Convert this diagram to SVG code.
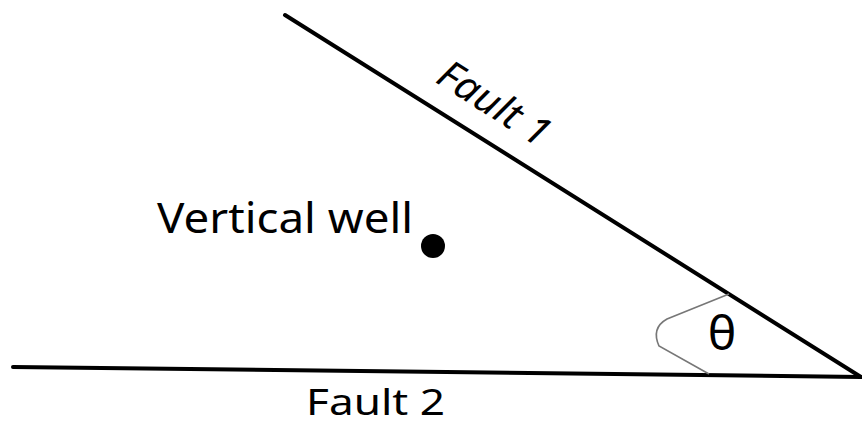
<svg xmlns="http://www.w3.org/2000/svg" width="862" height="427" viewBox="0 0 862 427">
<style>
.lbl{font-family:"Noto Sans","Open Sans","DejaVu Sans",sans-serif;fill:#000}
.fault{stroke:#000;stroke-width:4;stroke-linecap:round;fill:none}
</style>
<rect width="862" height="427" fill="#fff"/>
<g id="connectors">
<line id="fault1-line" class="fault" x1="285" y1="15" x2="861" y2="377"/>
<line id="fault2-line" class="fault" x1="13" y1="367" x2="861" y2="377"/>
<path id="angle-arc" d="M729 294 L667 319 Q651 328 659 346 L709 374" fill="none" stroke="#777" stroke-width="1.6"/>
</g>
<g id="fault1-label">
<text class="lbl" font-style="italic" font-size="40" text-anchor="middle" transform="translate(487,115) rotate(32.5)" textLength="125" lengthAdjust="spacingAndGlyphs">Fault 1</text>
</g>
<g id="well">
<text class="lbl" font-size="42" x="157" y="233" textLength="256" lengthAdjust="spacingAndGlyphs">Vertical well</text>
<circle cx="433" cy="246" r="12" fill="#000"/>
</g>
<g id="fault2-label">
<text class="lbl" font-size="36" x="306" y="415" textLength="139" lengthAdjust="spacingAndGlyphs">Fault 2</text>
</g>
<g id="theta">
<text class="lbl" font-size="48" text-anchor="middle" x="722" y="350">θ</text>
</g>
</svg>
